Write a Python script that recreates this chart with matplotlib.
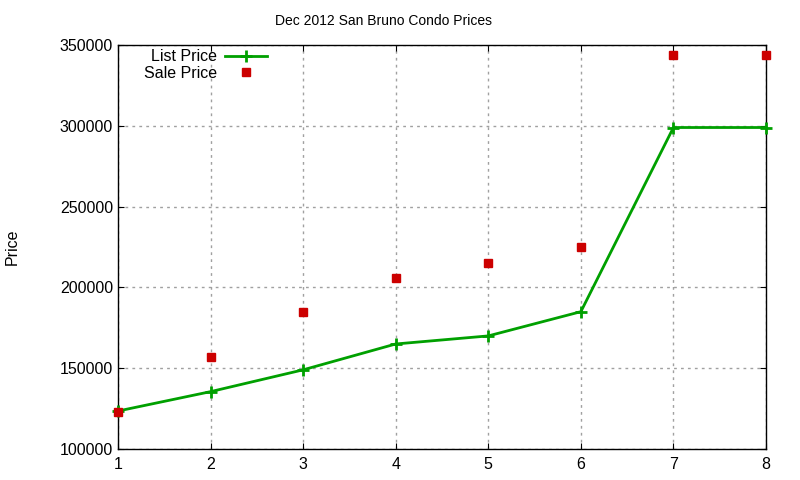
import numpy as np
import matplotlib.pyplot as plt

plt.rcParams['font.family'] = ['Liberation Sans', 'DejaVu Sans']

idx = [1, 2, 3, 4, 5, 6, 7, 8]
list_price = [123500, 135500, 149000, 165000, 170000, 185000, 299000, 299000]
sale_price = [123000, 157000, 185000, 206000, 215000, 225000, 344000, 344000]

fig = plt.figure(figsize=(8, 4.8), dpi=100)
ax = fig.add_axes([0.1475, 0.0646, 0.81, 0.8414])

ax.plot(idx, list_price, color='#00a000', lw=2, marker='+', ms=9, mew=2,
        label='List Price', zorder=3, clip_on=False)
ax.plot(idx, sale_price, ls='none', color='#cc0000', marker='s', ms=6,
        label='Sale Price', zorder=4, clip_on=False)

ax.set_xlim(1, 8)
ax.set_ylim(100000, 350000)
ax.set_xticks(idx)
ax.set_yticks(np.arange(100000, 350001, 50000))
ax.tick_params(direction='in', top=True, right=True, length=4, labelsize=11.5)
ax.tick_params(axis='x', pad=6)
ax.grid(True, color='#a0a0a0', ls=(0, (2, 3)), lw=1)
for s in ax.spines.values():
    s.set_linewidth(1)

fig.text(383.5 / 800, 1 - 21 / 480, 'Dec 2012 San Bruno Condo Prices',
         fontsize=10, ha='center', va='center')
fig.text(0.006, 0.485, 'Price', rotation=90, fontsize=11.5, va='center')

ax.legend(loc='upper left', bbox_to_anchor=(0.04, 0.99), frameon=False,
          markerfirst=False, fontsize=11.5, handlelength=2.6, labelspacing=0.12,
          handletextpad=0.5, borderaxespad=0.0, borderpad=0.0)
for t in ax.get_legend().get_texts():
    t.set_ha('right')

fig.savefig('out.png', dpi=100)
